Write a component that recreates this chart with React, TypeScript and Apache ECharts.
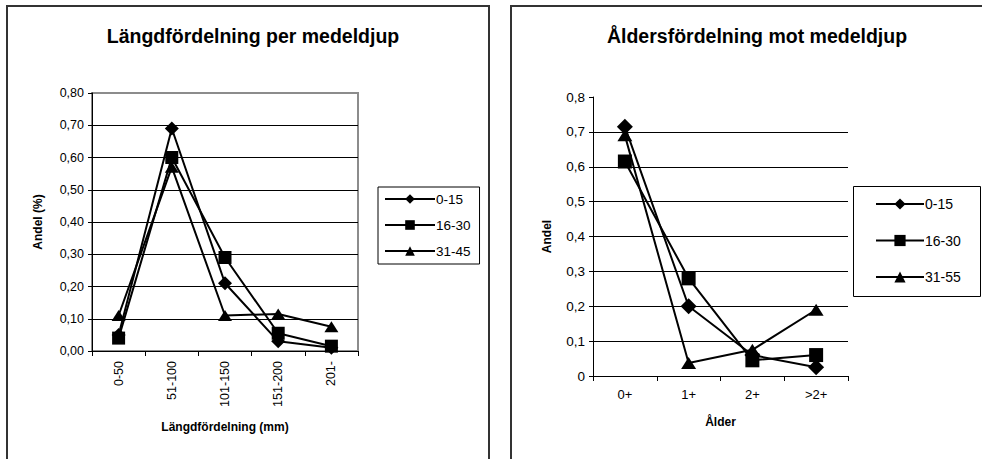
import React, { useEffect, useRef } from "react";
import * as echarts from "echarts";

// Length distribution per mean depth
const lengthClasses = ["0-50", "51-100", "101-150", "151-200", "201-"];
const lengthDepth0to15 = [0.05, 0.69, 0.21, 0.03, 0.01];
const lengthDepth16to30 = [0.04, 0.6, 0.29, 0.055, 0.015];
const lengthDepth31to45 = [0.11, 0.57, 0.11, 0.115, 0.075];
const lengthSeriesNames = ["0-15", "16-30", "31-45"];

// Age distribution per mean depth
const ageClasses = ["0+", "1+", "2+", ">2+"];
const ageDepth0to15 = [0.715, 0.2, 0.06, 0.025];
const ageDepth16to30 = [0.615, 0.28, 0.045, 0.06];
const ageDepth31to55 = [0.69, 0.037, 0.075, 0.19];
const ageSeriesNames = ["0-15", "16-30", "31-55"];

const FONT = "'Liberation Sans', Arial, sans-serif";
const symbols = ["diamond", "rect", "triangle"];

export default function App() {
  const ref = useRef<HTMLDivElement>(null);

  useEffect(() => {
    if (!ref.current) return;
    const chart = echarts.init(ref.current, undefined, { renderer: "svg" });

    const leftSizes: any[] = [[14, 14], [13, 13], [14, 11]];
    const rightSizes: any[] = [[16, 16], [14, 14], [15, 12]];

    const lineSeries = (
      name: string,
      data: number[],
      idx: number,
      grid: number,
      sizes: any[]
    ) => ({
      type: "line",
      name,
      data,
      xAxisIndex: grid,
      yAxisIndex: grid,
      symbol: symbols[idx],
      symbolSize: sizes[idx],
      showAllSymbol: true,
      lineStyle: { color: "#000", width: 2 },
      itemStyle: { color: "#000", borderWidth: 0 },
      z: 3 + idx,
      emphasis: { disabled: true },
    });

    const axisText = { color: "#000", fontFamily: FONT };

    chart.setOption({
      animation: false,
      backgroundColor: "#fff",
      textStyle: { fontFamily: FONT },
      title: [
        {
          text: "Längdfördelning per medeldjup",
          left: 248,
          top: 21,
          textAlign: "center",
          textStyle: { fontSize: 19.5, fontWeight: "bold", color: "#000", fontFamily: FONT },
        },
        {
          text: "Åldersfördelning mot medeldjup",
          left: 752,
          top: 21,
          textAlign: "center",
          textStyle: { fontSize: 19.5, fontWeight: "bold", color: "#000", fontFamily: FONT },
        },
      ],
      legend: [
        {
          data: lengthSeriesNames,
          orient: "vertical",
          left: 378,
          top: 187,
          itemWidth: 50,
          itemHeight: 12,
          itemGap: 12,
          padding: [5, 9, 6, 6],
          borderColor: "#000",
          borderWidth: 1,
          selectedMode: false,
          textStyle: { fontSize: 13.5, color: "#000", fontFamily: FONT, padding: [0, 0, 0, -4] },
        },
        {
          data: ageSeriesNames,
          orient: "vertical",
          left: 853,
          top: 186,
          itemWidth: 48,
          itemHeight: 14,
          itemGap: 22.5,
          padding: [11, 10, 12, 22],
          borderWidth: 0,
          selectedMode: false,
          textStyle: { fontSize: 14, color: "#000", fontFamily: FONT, padding: [0, 0, 0, -4] },
        },
      ],
      grid: [
        {
          left: 92,
          top: 93,
          width: 266,
          height: 258,
          show: true,
          borderColor: "#8c8c8c",
          borderWidth: 2,
          backgroundColor: "transparent",
        },
        { left: 593, top: 97, width: 255, height: 279 },
      ],
      xAxis: [
        {
          type: "category",
          gridIndex: 0,
          data: lengthClasses,
          boundaryGap: true,
          name: "Längdfördelning (mm)",
          nameLocation: "middle",
          nameGap: 70,
          nameTextStyle: { ...axisText, fontSize: 12, fontWeight: "bold" },
          axisLine: { lineStyle: { color: "#000", width: 1 } },
          axisTick: { show: true, alignWithLabel: false, length: 5, lineStyle: { color: "#000" } },
          axisLabel: { ...axisText, fontSize: 12.5, rotate: 90, margin: 10, interval: 0 },
          splitLine: { show: false },
        },
        {
          type: "category",
          gridIndex: 1,
          data: ageClasses,
          boundaryGap: true,
          name: "Ålder",
          nameLocation: "middle",
          nameGap: 40,
          nameTextStyle: { ...axisText, fontSize: 12, fontWeight: "bold" },
          axisLine: { lineStyle: { color: "#000", width: 1 } },
          axisTick: { show: true, alignWithLabel: false, length: 5, lineStyle: { color: "#000" } },
          axisLabel: { ...axisText, fontSize: 13, margin: 12, interval: 0 },
          splitLine: { show: false },
        },
      ],
      yAxis: [
        {
          type: "value",
          gridIndex: 0,
          min: 0,
          max: 0.8,
          interval: 0.1,
          name: "Andel (%)",
          nameLocation: "middle",
          nameGap: 48,
          nameTextStyle: { ...axisText, fontSize: 12, fontWeight: "bold" },
          axisLine: { show: true, lineStyle: { color: "#000", width: 1 } },
          axisTick: { show: true, length: 4, lineStyle: { color: "#000" } },
          axisLabel: {
            ...axisText,
            fontSize: 12.5,
            margin: 8,
            formatter: (v: number) => v.toFixed(2).replace(".", ","),
          },
          splitLine: {
            show: true,
            lineStyle: {
              color: ["#000", "#000", "#000", "#000", "#000", "#000", "#000", "#000", "#8c8c8c"],
              width: 1,
            },
          },
        },
        {
          type: "value",
          gridIndex: 1,
          min: 0,
          max: 0.8,
          interval: 0.1,
          name: "Andel",
          nameLocation: "middle",
          nameGap: 40,
          nameTextStyle: { ...axisText, fontSize: 12, fontWeight: "bold" },
          axisLine: { show: true, lineStyle: { color: "#000", width: 1 } },
          axisTick: { show: true, length: 4, lineStyle: { color: "#000" } },
          axisLabel: {
            ...axisText,
            fontSize: 13.5,
            margin: 8,
            formatter: (v: number) => (v === 0 ? "0" : v.toFixed(1).replace(".", ",")),
          },
          splitLine: {
            show: true,
            lineStyle: {
              color: ["#000", "#000", "#000", "#000", "#000", "#000", "#000", "#000", "transparent"],
              width: 1,
            },
          },
        },
      ],
      series: [
        lineSeries(lengthSeriesNames[0], lengthDepth0to15, 0, 0, leftSizes),
        lineSeries(lengthSeriesNames[1], lengthDepth16to30, 1, 0, leftSizes),
        lineSeries(lengthSeriesNames[2], lengthDepth31to45, 2, 0, leftSizes),
        lineSeries(ageSeriesNames[0], ageDepth0to15, 0, 1, rightSizes),
        lineSeries(ageSeriesNames[1], ageDepth16to30, 1, 1, rightSizes),
        lineSeries(ageSeriesNames[2], ageDepth31to55, 2, 1, rightSizes),
      ],
      graphic: [
        // chart panel frames
        {
          type: "rect",
          shape: { x: 7, y: 6, width: 482, height: 470 },
          style: { fill: "none", stroke: "#333", lineWidth: 2 },
          silent: true,
          z: 0,
        },
        {
          type: "rect",
          shape: { x: 511, y: 6, width: 480, height: 470 },
          style: { fill: "none", stroke: "#333", lineWidth: 2 },
          silent: true,
          z: 0,
        },
        // frame of the age legend, running to the right edge
        {
          type: "rect",
          shape: { x: 853.5, y: 186.5, width: 127, height: 110 },
          style: { fill: "none", stroke: "#000", lineWidth: 1 },
          silent: true,
          z: 0,
        },
      ],
    });

    return () => chart.dispose();
  }, []);

  return (
    <div
      ref={ref}
      style={{ position: "absolute", left: 0, top: 0, width: 982, height: 459 }}
    />
  );
}
